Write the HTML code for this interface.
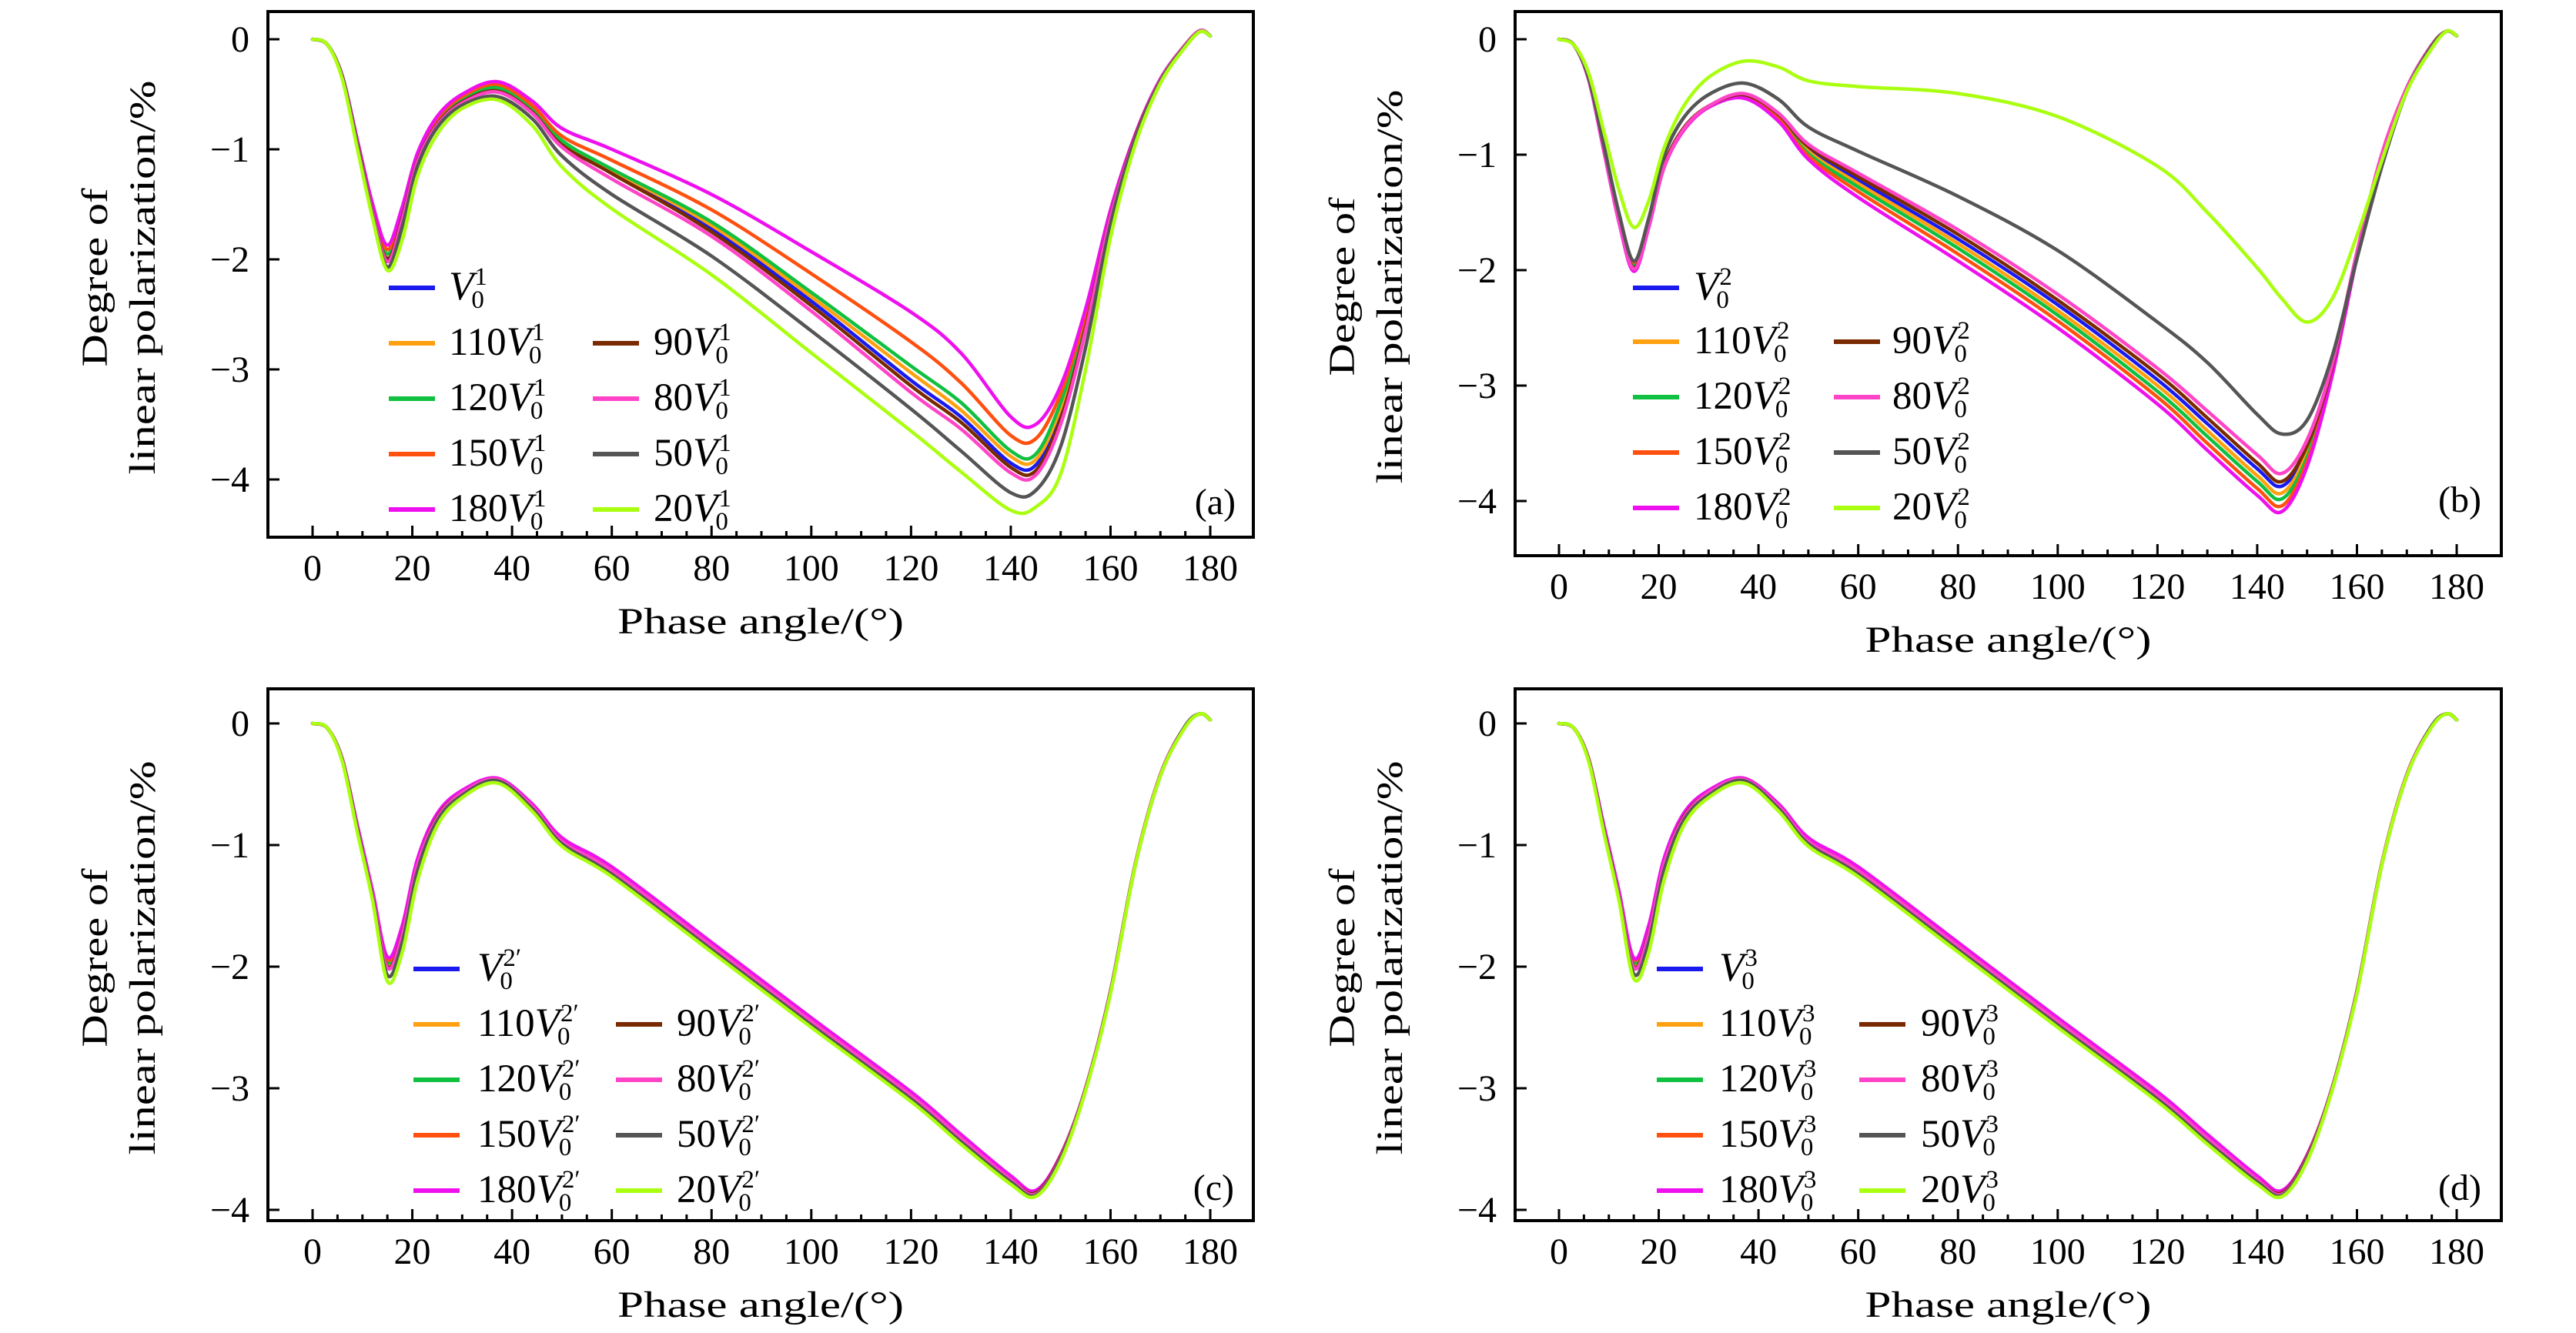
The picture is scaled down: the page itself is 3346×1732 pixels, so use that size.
<!DOCTYPE html>
<html><head><meta charset="utf-8"><style>
html,body{margin:0;padding:0;background:#fff}
svg{display:block}
text{font-family:"Liberation Serif",serif;fill:#000}
</style></head><body>
<svg id="fig" xmlns="http://www.w3.org/2000/svg" width="3346" height="1732" viewBox="0 0 3346 1732">
<rect x="0" y="0" width="3346" height="1732" fill="#fff"/>
</svg>
<script>
const X = [0,3,6,9,12,15,18,21,25,30,37,44,50,60,80,100,120,130,140,145,150,155,160,165,170,175,178,180];
const seriesNames = ['V0','110','120','150','180','90','80','50','20'];
const seriesColors = ['#1a1aee','#ffa010','#10c040','#ff5010','#ee10ee','#7a2a00','#ff44c8','#555555','#aaff10'];
const xTicks = [0,20,40,60,80,100,120,140,160,180];
const yTicks = [0,-1,-2,-3,-4];

const aV0  = [0,-0.05,-0.35,-0.95,-1.55,-1.98,-1.6,-1.1,-0.76,-0.56,-0.46,-0.65,-0.95,-1.2,-1.72,-2.38,-3.1,-3.43,-3.85,-3.87,-3.4,-2.6,-1.6,-0.88,-0.37,-0.05,0.08,0.03];
const a110 = [0,-0.05,-0.35,-0.95,-1.54,-1.96,-1.59,-1.09,-0.75,-0.55,-0.45,-0.64,-0.93,-1.19,-1.69,-2.34,-3.03,-3.37,-3.79,-3.82,-3.35,-2.57,-1.59,-0.88,-0.37,-0.05,0.08,0.03];
const a120 = [0,-0.05,-0.35,-0.94,-1.53,-1.95,-1.58,-1.08,-0.74,-0.54,-0.44,-0.63,-0.92,-1.18,-1.66,-2.3,-2.97,-3.3,-3.74,-3.77,-3.3,-2.55,-1.58,-0.87,-0.37,-0.05,0.08,0.03];
const a150 = [0,-0.05,-0.34,-0.93,-1.51,-1.91,-1.55,-1.06,-0.72,-0.52,-0.41,-0.6,-0.88,-1.1,-1.55,-2.13,-2.75,-3.12,-3.6,-3.63,-3.22,-2.5,-1.56,-0.86,-0.36,-0.05,0.08,0.03];
const a180 = [0,-0.05,-0.34,-0.92,-1.49,-1.87,-1.52,-1.04,-0.7,-0.5,-0.385,-0.56,-0.81,-1.0,-1.41,-1.93,-2.48,-2.85,-3.43,-3.5,-3.15,-2.45,-1.55,-0.86,-0.36,-0.05,0.08,0.03];
const a90  = [0,-0.05,-0.35,-0.95,-1.56,-2.0,-1.62,-1.11,-0.77,-0.57,-0.47,-0.66,-0.96,-1.22,-1.75,-2.42,-3.15,-3.48,-3.89,-3.92,-3.45,-2.62,-1.61,-0.88,-0.37,-0.05,0.08,0.03];
const a80  = [0,-0.05,-0.35,-0.96,-1.57,-2.02,-1.64,-1.12,-0.78,-0.58,-0.48,-0.67,-0.98,-1.27,-1.79,-2.47,-3.21,-3.54,-3.94,-3.96,-3.5,-2.65,-1.62,-0.89,-0.37,-0.05,0.08,0.03];
const a50  = [0,-0.05,-0.35,-0.97,-1.6,-2.07,-1.7,-1.16,-0.8,-0.6,-0.52,-0.72,-1.06,-1.41,-1.97,-2.65,-3.36,-3.74,-4.12,-4.1,-3.7,-2.8,-1.68,-0.9,-0.38,-0.06,0.07,0.03];
const a20  = [0,-0.05,-0.37,-1.0,-1.62,-2.1,-1.82,-1.25,-0.86,-0.63,-0.55,-0.78,-1.16,-1.54,-2.14,-2.85,-3.56,-3.93,-4.28,-4.25,-3.95,-3.0,-1.8,-0.95,-0.4,-0.07,0.07,0.03];

const bV0  = [0,-0.05,-0.35,-0.95,-1.55,-1.97,-1.6,-1.1,-0.77,-0.58,-0.48,-0.66,-0.95,-1.22,-1.73,-2.3,-2.95,-3.33,-3.72,-3.87,-3.55,-2.85,-1.85,-1.0,-0.42,-0.05,0.07,0.03];
const b110 = [0,-0.05,-0.35,-0.95,-1.55,-1.96,-1.6,-1.1,-0.77,-0.58,-0.49,-0.67,-0.97,-1.25,-1.77,-2.35,-3.0,-3.39,-3.78,-3.93,-3.58,-2.87,-1.86,-1.0,-0.42,-0.05,0.07,0.03];
const b120 = [0,-0.05,-0.35,-0.95,-1.55,-1.95,-1.6,-1.1,-0.77,-0.58,-0.49,-0.68,-0.99,-1.28,-1.81,-2.39,-3.05,-3.44,-3.83,-3.98,-3.62,-2.88,-1.87,-1.0,-0.42,-0.05,0.07,0.03];
const b150 = [0,-0.05,-0.35,-0.95,-1.54,-1.93,-1.59,-1.1,-0.77,-0.58,-0.5,-0.69,-1.01,-1.32,-1.86,-2.44,-3.1,-3.5,-3.89,-4.04,-3.66,-2.9,-1.88,-1.01,-0.42,-0.05,0.07,0.03];
const b180 = [0,-0.05,-0.36,-0.97,-1.58,-2.01,-1.63,-1.12,-0.79,-0.59,-0.51,-0.71,-1.04,-1.37,-1.92,-2.5,-3.16,-3.56,-3.95,-4.09,-3.7,-2.92,-1.89,-1.01,-0.42,-0.05,0.07,0.03];
const b90  = [0,-0.05,-0.35,-0.95,-1.56,-1.98,-1.61,-1.1,-0.77,-0.58,-0.48,-0.65,-0.93,-1.19,-1.69,-2.26,-2.9,-3.28,-3.67,-3.83,-3.52,-2.84,-1.85,-1.0,-0.42,-0.05,0.07,0.03];
const b80  = [0,-0.05,-0.35,-0.96,-1.57,-1.99,-1.62,-1.12,-0.78,-0.58,-0.47,-0.64,-0.91,-1.16,-1.65,-2.21,-2.85,-3.22,-3.6,-3.76,-3.47,-2.82,-1.84,-0.99,-0.42,-0.05,0.07,0.03];
const b50  = [0,-0.05,-0.34,-0.92,-1.5,-1.92,-1.55,-1.02,-0.68,-0.48,-0.38,-0.52,-0.76,-0.97,-1.36,-1.83,-2.45,-2.8,-3.25,-3.42,-3.3,-2.75,-1.9,-1.1,-0.45,-0.06,0.07,0.03];
const b20  = [0,-0.05,-0.3,-0.8,-1.3,-1.63,-1.4,-0.95,-0.58,-0.33,-0.19,-0.24,-0.36,-0.41,-0.47,-0.67,-1.1,-1.5,-1.98,-2.25,-2.45,-2.25,-1.7,-1.05,-0.45,-0.08,0.07,0.03];

const cV0  = [0,-0.04,-0.3,-0.86,-1.4,-1.98,-1.72,-1.16,-0.77,-0.57,-0.46,-0.68,-0.96,-1.2,-1.82,-2.44,-3.05,-3.4,-3.74,-3.86,-3.56,-3.0,-2.2,-1.15,-0.42,-0.02,0.08,0.03];
const c110 = [0,-0.04,-0.3,-0.86,-1.39,-1.97,-1.71,-1.15,-0.76,-0.57,-0.46,-0.68,-0.96,-1.2,-1.82,-2.44,-3.05,-3.4,-3.74,-3.86,-3.56,-3.0,-2.2,-1.15,-0.42,-0.02,0.08,0.03];
const c120 = [0,-0.04,-0.3,-0.85,-1.39,-1.96,-1.7,-1.14,-0.76,-0.56,-0.46,-0.67,-0.95,-1.19,-1.81,-2.43,-3.04,-3.39,-3.73,-3.85,-3.56,-3.0,-2.2,-1.15,-0.42,-0.02,0.08,0.03];
const c150 = [0,-0.04,-0.3,-0.85,-1.38,-1.94,-1.68,-1.13,-0.75,-0.56,-0.45,-0.67,-0.95,-1.19,-1.81,-2.43,-3.04,-3.39,-3.73,-3.85,-3.55,-3.0,-2.2,-1.15,-0.42,-0.02,0.08,0.03];
const c180 = [0,-0.04,-0.3,-0.84,-1.37,-1.92,-1.66,-1.12,-0.74,-0.55,-0.45,-0.66,-0.94,-1.18,-1.8,-2.42,-3.03,-3.38,-3.72,-3.84,-3.55,-3.0,-2.2,-1.15,-0.42,-0.02,0.08,0.03];
const c90  = [0,-0.04,-0.3,-0.87,-1.41,-2.0,-1.73,-1.17,-0.77,-0.57,-0.46,-0.68,-0.97,-1.21,-1.83,-2.45,-3.06,-3.41,-3.75,-3.86,-3.56,-3.0,-2.2,-1.15,-0.42,-0.02,0.08,0.03];
const c80  = [0,-0.04,-0.3,-0.87,-1.41,-2.01,-1.74,-1.17,-0.78,-0.57,-0.46,-0.68,-0.97,-1.21,-1.83,-2.45,-3.06,-3.41,-3.75,-3.87,-3.57,-3.0,-2.2,-1.15,-0.42,-0.02,0.08,0.03];
const c50  = [0,-0.04,-0.31,-0.88,-1.43,-2.07,-1.8,-1.22,-0.8,-0.59,-0.47,-0.7,-0.99,-1.24,-1.86,-2.48,-3.09,-3.44,-3.77,-3.88,-3.58,-3.01,-2.21,-1.16,-0.43,-0.02,0.08,0.03];
const c20  = [0,-0.04,-0.32,-0.9,-1.45,-2.12,-1.88,-1.3,-0.84,-0.61,-0.49,-0.72,-1.01,-1.26,-1.88,-2.5,-3.11,-3.46,-3.79,-3.89,-3.6,-3.02,-2.22,-1.16,-0.43,-0.03,0.08,0.03];

const dV0  = [0,-0.04,-0.3,-0.86,-1.4,-1.98,-1.72,-1.16,-0.77,-0.57,-0.46,-0.68,-0.96,-1.2,-1.82,-2.44,-3.05,-3.4,-3.74,-3.86,-3.56,-3.0,-2.2,-1.15,-0.42,-0.02,0.08,0.03];
const d110 = [0,-0.04,-0.3,-0.86,-1.39,-1.97,-1.71,-1.15,-0.76,-0.57,-0.46,-0.68,-0.96,-1.2,-1.82,-2.44,-3.05,-3.4,-3.74,-3.86,-3.56,-3.0,-2.2,-1.15,-0.42,-0.02,0.08,0.03];
const d120 = [0,-0.04,-0.3,-0.85,-1.39,-1.96,-1.7,-1.14,-0.76,-0.56,-0.46,-0.67,-0.95,-1.19,-1.81,-2.43,-3.04,-3.39,-3.73,-3.85,-3.56,-3.0,-2.2,-1.15,-0.42,-0.02,0.08,0.03];
const d150 = [0,-0.04,-0.3,-0.85,-1.38,-1.94,-1.68,-1.13,-0.75,-0.56,-0.45,-0.67,-0.95,-1.19,-1.81,-2.43,-3.04,-3.39,-3.73,-3.85,-3.55,-3.0,-2.2,-1.15,-0.42,-0.02,0.08,0.03];
const d180 = [0,-0.04,-0.3,-0.84,-1.37,-1.93,-1.66,-1.12,-0.74,-0.55,-0.45,-0.66,-0.94,-1.18,-1.8,-2.42,-3.03,-3.38,-3.72,-3.84,-3.55,-3.0,-2.2,-1.15,-0.42,-0.02,0.08,0.03];
const d90  = [0,-0.04,-0.3,-0.87,-1.41,-2.0,-1.73,-1.17,-0.77,-0.57,-0.46,-0.68,-0.97,-1.21,-1.83,-2.45,-3.06,-3.41,-3.75,-3.86,-3.56,-3.0,-2.2,-1.15,-0.42,-0.02,0.08,0.03];
const d80  = [0,-0.04,-0.3,-0.87,-1.41,-2.01,-1.74,-1.17,-0.78,-0.57,-0.46,-0.68,-0.97,-1.21,-1.83,-2.45,-3.06,-3.41,-3.75,-3.87,-3.57,-3.0,-2.2,-1.15,-0.42,-0.02,0.08,0.03];
const d50  = [0,-0.04,-0.31,-0.88,-1.43,-2.06,-1.8,-1.22,-0.8,-0.59,-0.47,-0.7,-0.99,-1.24,-1.86,-2.48,-3.09,-3.44,-3.77,-3.88,-3.58,-3.01,-2.21,-1.16,-0.43,-0.02,0.08,0.03];
const d20  = [0,-0.04,-0.32,-0.9,-1.45,-2.1,-1.88,-1.3,-0.84,-0.61,-0.49,-0.72,-1.01,-1.26,-1.88,-2.5,-3.11,-3.46,-3.79,-3.89,-3.6,-3.02,-2.22,-1.16,-0.43,-0.03,0.08,0.03];

const NS='http://www.w3.org/2000/svg';
const svg=document.getElementById('fig');
function mk(tag,attrs,parent){const e=document.createElementNS(NS,tag);for(const k in attrs)e.setAttribute(k,attrs[k]);(parent||svg).appendChild(e);return e;}

const panels=[
 {id:'a',L:348,R:1628,T:15,B:698,x0:406,y0:51,yk:143,sup:'1',data:[aV0,a110,a120,a150,a180,a90,a80,a50,a20],
  leg:{l1:505,t1:583,l2:770,t2:849,rows:[374,446,518,590,662]},tag:{x:1605,y:668}},
 {id:'b',L:1968,R:3249,T:15,B:722,x0:2025,y0:51,yk:150,sup:'2',data:[bV0,b110,b120,b150,b180,b90,b80,b50,b20],
  leg:{l1:2121,t1:2200,l2:2382,t2:2458,rows:[374,444,516,588,660]},tag:{x:3223,y:665}},
 {id:'c',L:348,R:1628,T:895,B:1586,x0:406,y0:940,yk:158,sup:'2\u2032',data:[cV0,c110,c120,c150,c180,c90,c80,c50,c20],
  leg:{l1:537,t1:620,l2:800,t2:879,rows:[1259,1331,1403,1475,1547]},tag:{x:1603,y:1559}},
 {id:'d',L:1968,R:3249,T:895,B:1586,x0:2025,y0:940,yk:158,sup:'3',data:[dV0,d110,d120,d150,d180,d90,d80,d50,d20],
  leg:{l1:2152,t1:2233,l2:2415,t2:2495,rows:[1259,1331,1403,1475,1547]},tag:{x:3223,y:1559}}
];
const XK=6.478;

function pathFrom(pts){
  let d='M'+pts[0][0].toFixed(1)+','+pts[0][1].toFixed(1);
  for(let i=0;i<pts.length-1;i++){
    const p0=pts[Math.max(0,i-1)],p1=pts[i],p2=pts[i+1],p3=pts[Math.min(pts.length-1,i+2)];
    const c1x=p1[0]+(p2[0]-p0[0])/6,c1y=p1[1]+(p2[1]-p0[1])/6;
    const c2x=p2[0]-(p3[0]-p1[0])/6,c2y=p2[1]-(p3[1]-p1[1])/6;
    d+=' C'+c1x.toFixed(1)+','+c1y.toFixed(1)+' '+c2x.toFixed(1)+','+c2y.toFixed(1)+' '+p2[0].toFixed(1)+','+p2[1].toFixed(1);
  }
  return d;
}

panels.forEach(P=>{
  const sx=v=>P.x0+v*XK, sy=v=>P.y0-v*P.yk;
  const g=mk('g',{});
  
  
  const sg=mk('g',{fill:'none','stroke-width':4.5,'stroke-linejoin':'round','stroke-linecap':'round'},g);
  P.data.forEach((arr,si)=>{
    const pts=X.map((x,i)=>[sx(x),sy(arr[i])]);
    const p=mk('path',{d:pathFrom(pts),stroke:seriesColors[si]},sg);
    
    
  });
  const fr=mk('rect',{x:P.L,y:P.T,width:P.R-P.L,height:P.B-P.T,fill:'none',stroke:'#000','stroke-width':4},g);
  
  
  for(let v=0;v<=180;v+=5){
    const major=v%20===0;
    mk('line',{x1:sx(v),x2:sx(v),y1:P.B,y2:P.B-(major?15:8),stroke:'#000','stroke-width':3},g);
  }
  xTicks.forEach(v=>{
    const t=mk('text',{x:sx(v),y:P.B+56,'font-size':48,'text-anchor':'middle'},g);
    t.textContent=String(v);
    
    
  });
  yTicks.forEach(v=>{
    mk('line',{x1:P.L,x2:P.L+15,y1:sy(v),y2:sy(v),stroke:'#000','stroke-width':3},g);
    const t=mk('text',{x:P.L-24,y:sy(v)+16,'font-size':48,'text-anchor':'end'},g);
    t.textContent=v===0?'0':'\u2212'+Math.abs(v);
    
    
  });
  const xt=mk('text',{x:(P.L+P.R)/2,y:P.B+125,'font-size':48,'text-anchor':'middle',textLength:372,lengthAdjust:'spacingAndGlyphs'},g);
  xt.textContent='Phase angle/(\u00b0)';
  
  
  const cy=(P.T+P.B)/2+4;
  const y1x=P.L-209, y2x=P.L-147;
  const yt1=mk('text',{x:y1x,y:cy,'font-size':48,'text-anchor':'middle',transform:`rotate(-90 ${y1x} ${cy})`,textLength:232,lengthAdjust:'spacingAndGlyphs'},g);
  yt1.textContent='Degree of';
  
  
  const yt2=mk('text',{x:y2x,y:cy,'font-size':48,'text-anchor':'middle',transform:`rotate(-90 ${y2x} ${cy})`,textLength:512,lengthAdjust:'spacingAndGlyphs'},g);
  yt2.textContent='linear polarization/%';
  
  
  const tg=mk('text',{x:P.tag.x,y:P.tag.y,'font-size':48,'text-anchor':'end'},g);
  tg.textContent='('+P.id+')';
  
  
  const lg=mk('g',{},g);
  
  
  const slots=[[0,0],[1,0],[2,0],[3,0],[4,0],[1,1],[2,1],[3,1],[4,1]];
  seriesNames.forEach((nm,si)=>{
    const [r,c]=slots[si];
    const ly=P.leg.rows[r];
    const lx=c?P.leg.l2:P.leg.l1, tx=c?P.leg.t2:P.leg.t1;
    const e=mk('g',{},lg);
    
    
    mk('line',{x1:lx,x2:lx+60,y1:ly,y2:ly,stroke:seriesColors[si],'stroke-width':6},e);
    const t=mk('text',{x:tx,y:ly+15,'font-size':51},e);
    const pre=nm==='V0'?'':nm;
    if(pre){const s=mk('tspan',{},t);s.textContent=pre;}
    const v=mk('tspan',{'font-style':'italic','font-size':53},t);v.textContent='V';
    const w=t.getComputedTextLength();
    const sp=mk('text',{x:tx+w+1,y:ly-4,'font-size':33},e);sp.textContent=P.sup;
    const sb=mk('text',{x:tx+w-3,y:ly+26,'font-size':33},e);sb.textContent='0';
  });
});
</script>
</body></html>
